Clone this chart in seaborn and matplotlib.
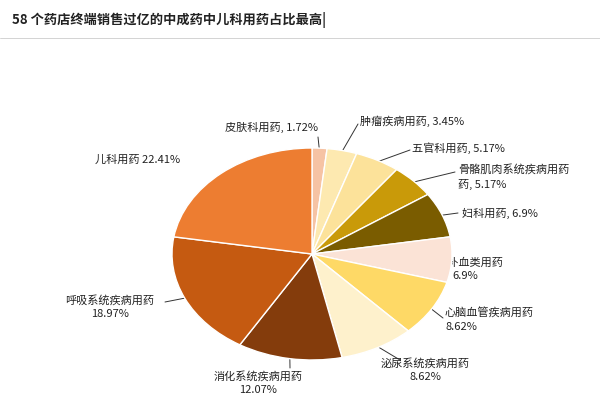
import matplotlib
matplotlib.use("Agg")
import matplotlib.pyplot as plt
import seaborn as sns
import numpy as np

sns.set_theme(style="white")
plt.rcParams["font.family"] = "Noto Sans CJK SC"

categories = ["皮肤科用药", "肿瘤疾病用药", "五官科用药", "骨骼肌肉系统疾病用药", "妇科用药",
              "补气补血类用药", "心脑血管疾病用药", "泌尿系统疾病用药", "消化系统疾病用药",
              "呼吸系统疾病用药", "儿科用药"]
values = [1.72, 3.45, 5.17, 5.17, 6.9, 6.9, 8.62, 8.62, 12.07, 18.97, 22.41]
value_labels = ["1.72%", "3.45%", "5.17%", "5.17%", "6.9%", "6.9%", "8.62%", "8.62%", "12.07%", "18.97%", "22.41%"]
colors = ["#F6C3A4", "#FDE9B0", "#FCE29A", "#C99A09", "#7A5C00", "#FBE3D6",
          "#FED966", "#FEF1CC", "#843C0C", "#C55A11", "#ED7D31"]

label_text = [
    f"{categories[0]}, {value_labels[0]}",
    f"{categories[1]}, {value_labels[1]}",
    f"{categories[2]}, {value_labels[2]}",
    f"{categories[3]}\n药, {value_labels[3]}",
    f"{categories[4]}, {value_labels[4]}",
    f"{categories[5]}\n{value_labels[5]}",
    f"{categories[6]}\n{value_labels[6]}",
    f"{categories[7]}\n{value_labels[7]}",
    f"{categories[8]}\n{value_labels[8]}",
    f"{categories[9]}\n{value_labels[9]}",
    f"{categories[10]} {value_labels[10]}",
]
label_pos = [(318, 127, "right"), (360, 121, "left"), (412, 148, "left"), (458, 177, "left"),
             (462, 213, "left"), (465, 269, "center"), (445, 320, "left"), (425, 370, "center"),
             (258, 383, "center"), (110, 307, "center"), (95, 160, "left")]
line_end = [(318, 137), (358, 124), (410, 150), (455, 172), (458, 213), (452, 262),
            (443, 318), (400, 360), (290, 368), (165, 302), (None, None)]

fig = plt.figure(figsize=(6, 4), dpi=100)
over = fig.add_axes([0, 0, 1, 1])
over.set_xlim(0, 600)
over.set_ylim(400, 0)
over.axis("off")

cx, cy, rx, ry = 312, 254, 140, 106
pax = fig.add_axes([(cx - rx) / 600, (400 - cy - ry) / 400, 2 * rx / 600, 2 * ry / 400])
wedges, _ = pax.pie(values, colors=colors, startangle=90, counterclock=False,
                    wedgeprops=dict(edgecolor="white", linewidth=1))
pax.set_aspect("auto")
pax.set_xlim(-1, 1)
pax.set_ylim(-1, 1)
pax.axis("off")

for w, txt, (lx, ly, ha), (ex, ey) in zip(wedges, label_text, label_pos, line_end):
    ang = np.deg2rad((w.theta1 + w.theta2) / 2)
    if ex is not None:
        px, py = cx + rx * 0.98 * np.cos(ang), cy - ry * 0.98 * np.sin(ang)
        over.plot([px, ex], [py, ey], color="#333333", lw=0.7)
    over.text(lx, ly, txt, ha=ha, va="center", fontsize=8, color="#222222", linespacing=1.4)

over.text(12, 20, "58 个药店终端销售过亿的中成药中儿科用药占比最高|", fontsize=9.5,
          fontweight="bold", color="#222222", va="center")
over.plot([0, 600], [38, 38], color="#cccccc", lw=0.6)
fig.savefig("out.png", dpi=100)
